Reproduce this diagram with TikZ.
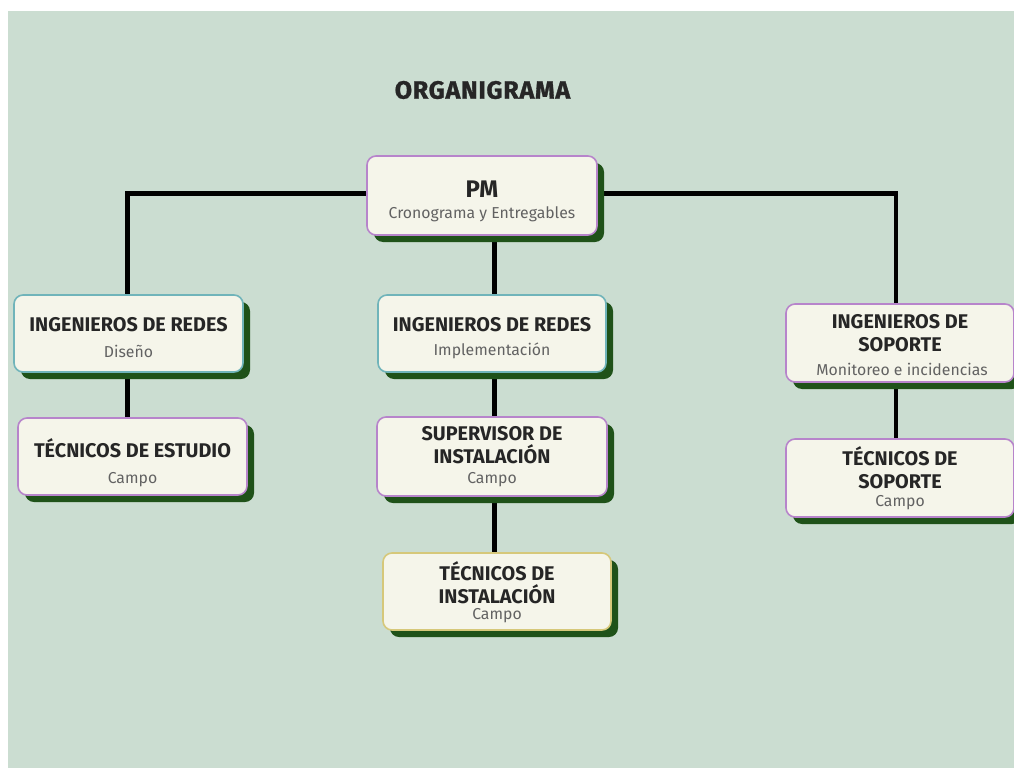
\documentclass[tikz,border=0pt]{standalone}
\usepackage{fontspec}
\setmainfont{Fira Sans}
\usetikzlibrary{shadows}

\definecolor{canvas}{RGB}{203,221,209}
\definecolor{cardfill}{RGB}{245,245,234}
\definecolor{cardshadow}{RGB}{31,82,25}
\definecolor{edgelilac}{RGB}{183,132,203}
\definecolor{edgeteal}{RGB}{112,180,186}
\definecolor{edgesand}{RGB}{214,200,122}
\definecolor{inkdark}{RGB}{38,38,38}
\definecolor{inkgray}{RGB}{98,98,98}

\pgfdeclarelayer{backdrop}
\pgfdeclarelayer{wires}
\pgfsetlayers{backdrop,wires,main}

\tikzset{
  card/.style={rectangle, rounded corners=9pt, draw=#1, line width=1.6pt,
    fill=cardfill, minimum width=229pt, minimum height=77pt, inner sep=0pt,
    drop shadow={shadow xshift=7pt, shadow yshift=-7pt, opacity=1, fill=cardshadow}},
  head/.style={font=\bfseries\fontsize{19.8}{23}\selectfont, text=inkdark,
    align=center, inner sep=0pt},
  sub/.style={font=\fontsize{15.8}{18}\selectfont, text=inkgray, inner sep=0pt},
  wire/.style={line width=4.5pt, black, line join=miter}
}

\begin{document}
\begin{tikzpicture}[x=1pt,y=-1pt]
  \useasboundingbox (0,0) rectangle (1014,768);
  \begin{pgfonlayer}{backdrop}
    \fill[white] (0,0) rectangle (1014,768);
    \fill[canvas] (8,11) rectangle (1014,768);
  \end{pgfonlayer}

  % title
  \node[font=\bfseries\fontsize{25}{29}\selectfont\addfontfeatures{LetterSpace=3,FakeBold=1.2},
        text=inkdark, inner sep=0pt] (title) at (482.5,90) {ORGANIGRAMA};

  % cards
  \node[card=edgelilac, minimum width=230pt, minimum height=79pt] (pm) at (482,195.5) {};
  \node[card=edgeteal]  (ir1) at (128.5,333.5) {};
  \node[card=edgelilac] (te)  at (132.5,456.5) {};
  \node[card=edgeteal, minimum width=228pt] (ir2) at (492,333.5) {};
  \node[card=edgelilac, minimum width=230pt, minimum height=79pt] (sup) at (492,456.5) {};
  \node[card=edgesand, minimum width=228pt] (ti) at (497,591.5) {};
  \node[card=edgelilac, minimum width=228pt, minimum height=78pt] (is) at (900,343) {};
  \node[card=edgelilac, minimum width=228pt, minimum height=78pt] (ts) at (900,478) {};

  % card texts
  \node[head, font=\bfseries\fontsize{24}{28}\selectfont] (pmh) at (482,189) {PM};
  \node[sub] (pms) at (482,214) {Cronograma y Entregables};

  \node[head] (ir1h) at (128.5,325) {INGENIEROS DE REDES};
  \node[sub]  (ir1s) at (128.5,351) {Diseño};

  \node[head] (teh) at (132.5,448) {TÉCNICOS DE ESTUDIO};
  \node[sub]  (tes) at (132.5,480) {Campo};

  \node[head] (ir2h) at (492,325) {INGENIEROS DE REDES};
  \node[sub]  (ir2s) at (492,351) {Implementación};

  \node[head] (suph) at (492,445.5) {SUPERVISOR DE\\INSTALACIÓN};
  \node[sub]  (sups) at (492,480) {Campo};

  \node[head] (tih) at (497,582.5) {TÉCNICOS DE\\INSTALACIÓN};
  \node[sub]  (tis) at (497,616) {Campo};

  \node[head] (ish) at (900,333) {INGENIEROS DE\\SOPORTE};
  \node[sub]  (iss) at (902,369) {Monitoreo e incidencias};

  \node[head] (tsh) at (900,467.5) {TÉCNICOS DE\\SOPORTE};
  \node[sub]  (tss) at (900,503) {Campo};

  % connector anchors
  \path ([xshift=-1pt]ir1.north) coordinate (l1)
        ([xshift=-1pt]ir1.south) coordinate (l2)
        ([xshift=2.5pt]ir2.north) coordinate (m1)
        ([xshift=2.5pt]ir2.south) coordinate (m2)
        ([xshift=2.5pt]sup.south) coordinate (m3)
        ([xshift=-4pt]is.north) coordinate (r1)
        ([xshift=-4pt]is.south) coordinate (r2)
        ([yshift=2pt]pm.west) coordinate (pmw)
        ([yshift=2pt]pm.east) coordinate (pme);

  \begin{pgfonlayer}{wires}
    \draw[wire] (l1) |- (pmw);
    \draw[wire] (r1) |- (pme);
    \draw[wire] (m1) -- (m1 |- pm.south);
    \draw[wire] (m2) -- (m2 |- sup.north);
    \draw[wire] (m3) -- (m3 |- ti.north);
    \draw[wire] (l2) -- (l2 |- te.north);
    \draw[wire] (r2) -- (r2 |- ts.north);
  \end{pgfonlayer}
\end{tikzpicture}
\end{document}
